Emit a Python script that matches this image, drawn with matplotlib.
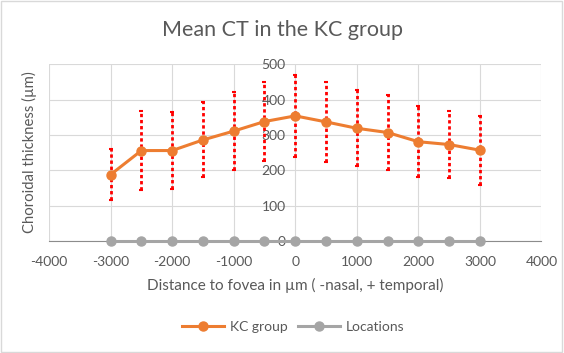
import matplotlib
matplotlib.use("Agg")
import matplotlib.pyplot as plt
from matplotlib.patches import Rectangle

# Distance to fovea (µm) and mean choroidal thickness (µm) with SD
distance = [-3000, -2500, -2000, -1500, -1000, -500, 0, 500, 1000, 1500, 2000, 2500, 3000]
kc_mean = [188, 256, 256, 286, 311, 338, 354, 337, 319, 307, 281, 273, 257]
kc_sd = [73, 112, 108, 106, 110, 112, 117, 112, 107, 106, 101, 94, 97]
locations = [0] * len(distance)

x_ticks = [-4000, -3000, -2000, -1000, 0, 1000, 2000, 3000, 4000]
y_ticks = [0, 100, 200, 300, 400, 500]

TEXT = "#595959"
GRID = "#d9d9d9"
ORANGE = "#ED7D31"
GREY = "#A5A5A5"

plt.rcParams["font.family"] = ["Lato", "DejaVu Sans"]
plt.rcParams["axes.unicode_minus"] = False

fig = plt.figure(figsize=(5.64, 3.53), dpi=100)
ax = fig.add_axes([0.087, 0.317, 0.873, 0.501])

ax.plot(distance, locations, color=GREY, lw=2.2, marker="o", ms=6.5,
        label="Locations", zorder=3, clip_on=False)

eb = ax.errorbar(distance, kc_mean, yerr=kc_sd, fmt="none", ecolor="red",
                 elinewidth=2, capsize=1.5, capthick=1.5, zorder=4)
for lc in eb[2]:
    lc.set_linestyle((0, (1.2, 1.0)))

ax.plot(distance, kc_mean, color=ORANGE, lw=2.2, marker="o", ms=6.5,
        label="KC group", zorder=5)

ax.set_xlim(-4000, 4000)
ax.set_ylim(0, 500)
ax.set_xticks(x_ticks)
ax.set_yticks(y_ticks)
ax.grid(True, color=GRID, lw=0.8)
ax.set_axisbelow(True)

for s in ["top", "right"]:
    ax.spines[s].set_visible(False)
ax.spines["left"].set_position(("data", 0))
ax.spines["left"].set_visible(False)
ax.spines["bottom"].set_color("#8c8c8c")
ax.spines["bottom"].set_linewidth(0.8)

ax.tick_params(axis="both", length=0, labelsize=10, labelcolor=TEXT)
ax.tick_params(axis="x", pad=11)
ax.tick_params(axis="y", pad=7)

fig.text(0.5, 0.915, "Mean CT in the KC group", ha="center", va="center",
         fontsize=15.5, color=TEXT)
fig.text(0.052, 0.57, "Choroidal thickness (µm)", rotation=90, ha="center",
         va="center", fontsize=10.7, color=TEXT)
fig.text(0.523, 0.19, "Distance to fovea in µm ( -nasal, + temporal)",
         ha="center", va="center", fontsize=11, color=TEXT)

handles, labels = ax.get_legend_handles_labels()
fig.legend(handles[::-1], labels[::-1], loc="center", bbox_to_anchor=(0.52, 0.075),
           ncol=2, frameon=False, fontsize=10, labelcolor=TEXT,
           handlelength=3, columnspacing=0.8, handletextpad=0.4)

fig.patches.append(Rectangle((0.002, 0.003), 0.995, 0.993, transform=fig.transFigure,
                             fill=False, edgecolor=GRID, lw=1))

fig.savefig("out.png", dpi=100)
